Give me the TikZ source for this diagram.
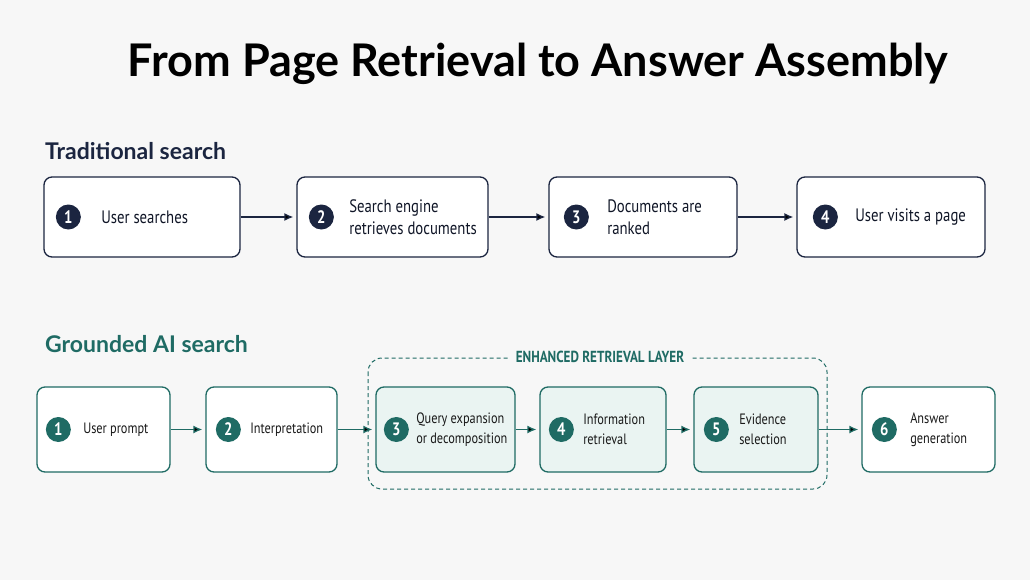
\documentclass[tikz,border=0pt]{standalone}
\usepackage{fontspec}
\setmainfont{PT Sans}
\newfontfamily\headfont{Lato}
\newfontfamily\bodyfont[FakeStretch=0.82]{PT Sans}
\usetikzlibrary{positioning,arrows.meta}

\definecolor{navy}{HTML}{1B2540}
\definecolor{teal}{HTML}{1F6B64}
\definecolor{tealfill}{HTML}{EAF4F2}
\definecolor{paper}{HTML}{F7F7F7}

\tikzset{
  tradbox/.style={draw=navy,line width=1.3pt,rounded corners=8pt,fill=white,minimum height=80pt,inner sep=0pt},
  aibox/.style={draw=teal,line width=1.3pt,rounded corners=8pt,fill=white,minimum height=85pt,inner sep=0pt},
  layerbox/.style={aibox,fill=tealfill},
  navydot/.style={circle,fill=navy,text=white,minimum size=25pt,inner sep=0pt,font=\bodyfont\bfseries\fontsize{18}{18}\selectfont},
  tealdot/.style={circle,fill=teal,text=white,minimum size=25pt,inner sep=0pt,font=\bodyfont\bfseries\fontsize{18}{18}\selectfont},
  tradtext/.style={align=left,inner sep=0pt,text=navy!60!black,font=\bodyfont\fontsize{18}{22}\selectfont},
  aitext/.style={align=left,inner sep=0pt,text=black!90,font=\bodyfont\fontsize{15}{20}\selectfont},
  tradarrow/.style={-{Latex[length=9pt,width=8pt]},draw=navy,line width=1.3pt,shorten >=3pt},
  aiarrow/.style={-{Latex[length=9pt,width=8pt]},draw=teal,line width=1.3pt,shorten >=3pt}
}

\begin{document}
\begin{tikzpicture}[x=1pt,y=-1pt]
  \fill[paper] (0,0) rectangle (1030,580);
  \useasboundingbox (0,0) rectangle (1030,580);

  % title
  \node (title) at (538,64) {\headfont\bfseries\fontsize{45}{48}\selectfont From Page Retrieval to Answer Assembly};

  % traditional search
  \node[anchor=west,inner sep=0pt,text=navy] (trad) at (45,151) {\headfont\bfseries\fontsize{23}{26}\selectfont Traditional search};

  \node[tradbox,minimum width=196pt] (t1) at (142,217) {};
  \node[tradbox,minimum width=191pt] (t2) at (392.5,217) {};
  \node[tradbox,minimum width=188pt] (t3) at (643,217) {};
  \node[tradbox,minimum width=188pt] (t4) at (891,217) {};

  \node[navydot] (tn1) at ([xshift=25pt]t1.west) {1};
  \node[navydot] (tn2) at ([xshift=25pt]t2.west) {2};
  \node[navydot] (tn3) at ([xshift=28pt]t3.west) {3};
  \node[navydot] (tn4) at ([xshift=29pt]t4.west) {4};

  \node[tradtext,right=20pt of tn1] (tt1) {User searches};
  \node[tradtext,right=15pt of tn2] (tt2) {Search engine\\retrieves documents};
  \node[tradtext,right=18pt of tn3] (tt3) {Documents are\\ranked};
  \node[tradtext,right=17pt of tn4] (tt4) {User visits a page};

  \path[tradarrow]
  (t1) edge (t2)
  (t2) edge (t3)
  (t3) edge (t4);

  % grounded AI search
  \node[anchor=west,inner sep=0pt,text=teal] (ai) at (45,344) {\headfont\bfseries\fontsize{23}{26}\selectfont Grounded AI search};

  \draw[teal,line width=1pt,dash pattern=on 4pt off 3pt,rounded corners=14pt] (368,358) rectangle (827,489);
  \node[fill=paper,inner xsep=7pt,inner ysep=2pt,text=teal] (layer) at (600,357) {\bodyfont\bfseries\fontsize{16}{16}\selectfont ENHANCED RETRIEVAL LAYER};

  \node[aibox,minimum width=133pt] (a1) at (103.5,429.5) {};
  \node[aibox,minimum width=131pt] (a2) at (271.5,429.5) {};
  \node[layerbox,minimum width=139pt] (a3) at (445.5,429.5) {};
  \node[layerbox,minimum width=126pt] (a4) at (603,429.5) {};
  \node[layerbox,minimum width=124pt] (a5) at (756,429.5) {};
  \node[aibox,minimum width=133pt] (a6) at (928.5,429.5) {};

  \node[tealdot] (an1) at ([xshift=22pt]a1.west) {1};
  \node[tealdot] (an2) at ([xshift=23pt]a2.west) {2};
  \node[tealdot] (an3) at ([xshift=21pt]a3.west) {3};
  \node[tealdot] (an4) at ([xshift=22pt]a4.west) {4};
  \node[tealdot] (an5) at ([xshift=23pt]a5.west) {5};
  \node[tealdot] (an6) at ([xshift=23pt]a6.west) {6};

  \node[aitext,right=12pt of an1] (at1) {User prompt};
  \node[aitext,right=9pt of an2] (at2) {Interpretation};
  \node[aitext,right=7pt of an3] (at3) {Query expansion\\or decomposition};
  \node[aitext,right=9pt of an4] (at4) {Information\\retrieval};
  \node[aitext,right=10pt of an5] (at5) {Evidence\\selection};
  \node[aitext,right=13pt of an6] (at6) {Answer\\generation};

  \path[aiarrow]
  (a1) edge (a2)
  (a2) edge (a3)
  (a3) edge (a4)
  (a4) edge (a5)
  (a5) edge (a6);
\end{tikzpicture}
\end{document}
